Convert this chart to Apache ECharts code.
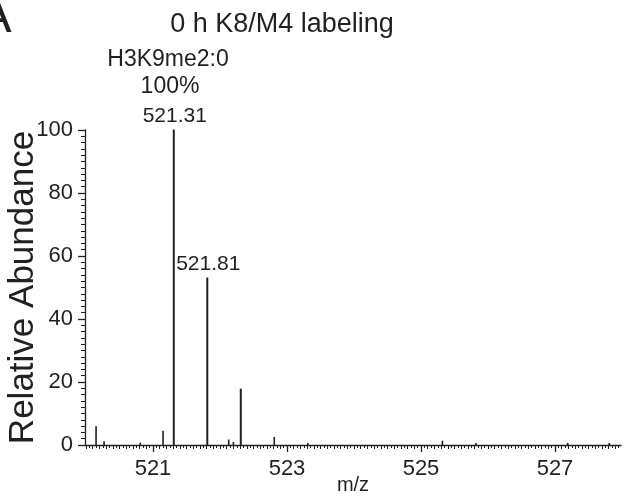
<!DOCTYPE html>
<html>
<head>
<meta charset="utf-8">
<script src="https://cdn.jsdelivr.net/npm/echarts@6/dist/echarts.min.js"></script>
<style>
html,body{margin:0;padding:0;background:#fff;}
#chart{width:624px;height:499px;}
</style>
</head>
<body>
<div id="chart"></div>
<script>
// ---- data ----
const mzValues = [520.15, 520.27, 520.81, 521.15, 521.31, 521.81, 522.13, 522.20, 522.31, 522.81, 523.31, 525.32, 525.82, 527.19, 527.81];
const abundance = [5.8, 1.0, 0.6, 4.4, 100, 53, 1.6, 0.8, 17.7, 2.4, 0.5, 1.2, 0.5, 0.5, 0.5];
const labeledPeaks = [521.31, 521.81];
const xTickLabels = [521, 523, 525, 527];
const yTickLabels = [0, 20, 40, 60, 80, 100];
const titleText = '0 h K8/M4 labeling';
const annotationLines = ['H3K9me2:0', '100%'];
const xName = 'm/z';
const yName = 'Relative Abundance';

const xMin = 519.985, xMax = 527.985;
const ink = '#231f20';
const regular = '"Liberation Sans", Arial, sans-serif';

const minorTicks01 = [];
for (let v = 520.0; v < xMax; v += 0.1) minorTicks01.push(Math.round(v * 100) / 100);
const minorTicks005 = [];
for (let v = 520.05; v < xMax; v += 0.1) minorTicks005.push(Math.round(v * 100) / 100);

const seriesData = mzValues.map((m, i) => [m, abundance[i]]);

const chart = echarts.init(document.getElementById('chart'), null, {renderer: 'canvas'});
chart.setOption({
  animation: false,
  backgroundColor: '#fff',
  grid: {left: 85, right: 3, top: 130, bottom: 54, containLabel: false, outerBoundsMode: 'none'},
  xAxis: [
    {
      type: 'value', min: xMin, max: xMax, position: 'bottom',
      axisLine: {show: true, lineStyle: {color: ink, width: 1.3}},
      axisTick: {show: true, customValues: xTickLabels, length: 7, lineStyle: {color: ink, width: 1.3}},
      axisLabel: {customValues: xTickLabels, color: ink, fontFamily: regular, fontSize: 22, margin: 13,
                  formatter: v => String(Math.round(v))},
      splitLine: {show: false},
      name: xName, nameLocation: 'middle', nameGap: 30, nameMoveOverlap: false,
      nameTextStyle: {color: ink, fontFamily: regular, fontSize: 20, verticalAlign: 'top'}
    },
    {
      type: 'value', min: xMin, max: xMax, position: 'bottom',
      axisLine: {show: false},
      axisTick: {show: true, customValues: minorTicks01, length: 4, lineStyle: {color: ink, width: 1}},
      axisLabel: {show: false}, splitLine: {show: false}
    },
    {
      type: 'value', min: xMin, max: xMax, position: 'bottom',
      axisLine: {show: false},
      axisTick: {show: true, customValues: minorTicks005, length: 3, lineStyle: {color: ink, width: 1}},
      axisLabel: {show: false}, splitLine: {show: false}
    }
  ],
  yAxis: {
    type: 'value', min: yTickLabels[0], max: yTickLabels[yTickLabels.length - 1], interval: 20,
    axisLine: {show: true, lineStyle: {color: ink, width: 1.3}},
    axisTick: {show: true, length: 7, lineStyle: {color: ink, width: 1.3}},
    minorTick: {show: true, splitNumber: 10, length: 4, lineStyle: {color: ink, width: 1}},
    axisLabel: {color: ink, fontFamily: regular, fontSize: 22, margin: 12},
    splitLine: {show: false},
    name: yName, nameLocation: 'middle', nameGap: 44, nameMoveOverlap: false,
    nameTextStyle: {color: ink, fontFamily: regular, fontSize: 35}
  },
  series: [{
    type: 'custom',
    xAxisIndex: 0,
    data: seriesData,
    renderItem: function (params, api) {
      const x = api.value(0), y = api.value(1);
      const p0 = api.coord([x, 0]);
      const p1 = api.coord([x, y]);
      const children = [{
        type: 'line',
        shape: {x1: p0[0], y1: p0[1], x2: p1[0], y2: p1[1] - 0.5},
        style: {stroke: ink, lineWidth: y > 10 ? 2 : 1.6}
      }];
      if (labeledPeaks.indexOf(x) >= 0) {
        children.push({
          type: 'text',
          x: p1[0] + 1, y: p1[1] - 3,
          style: {text: x.toFixed(2), textAlign: 'center', textVerticalAlign: 'bottom',
                  font: '21px ' + regular, fill: ink}
        });
      }
      return {type: 'group', children: children};
    }
  }],
  graphic: [
    {type: 'text', x: 282, y: 25, style: {text: titleText, textAlign: 'center', textVerticalAlign: 'middle', font: '27px ' + regular, fill: ink}},
    {type: 'text', x: 168, y: 60, style: {text: annotationLines[0], textAlign: 'center', textVerticalAlign: 'middle', font: '23px ' + regular, fill: ink}},
    {type: 'text', x: 170, y: 87, style: {text: annotationLines[1], textAlign: 'center', textVerticalAlign: 'middle', font: '23px ' + regular, fill: ink}},
    {type: 'text', x: -5, y: 18, style: {text: 'A', textAlign: 'center', textVerticalAlign: 'middle', font: '50px ' + regular, fill: ink}}
  ]
});
</script>
</body>
</html>
